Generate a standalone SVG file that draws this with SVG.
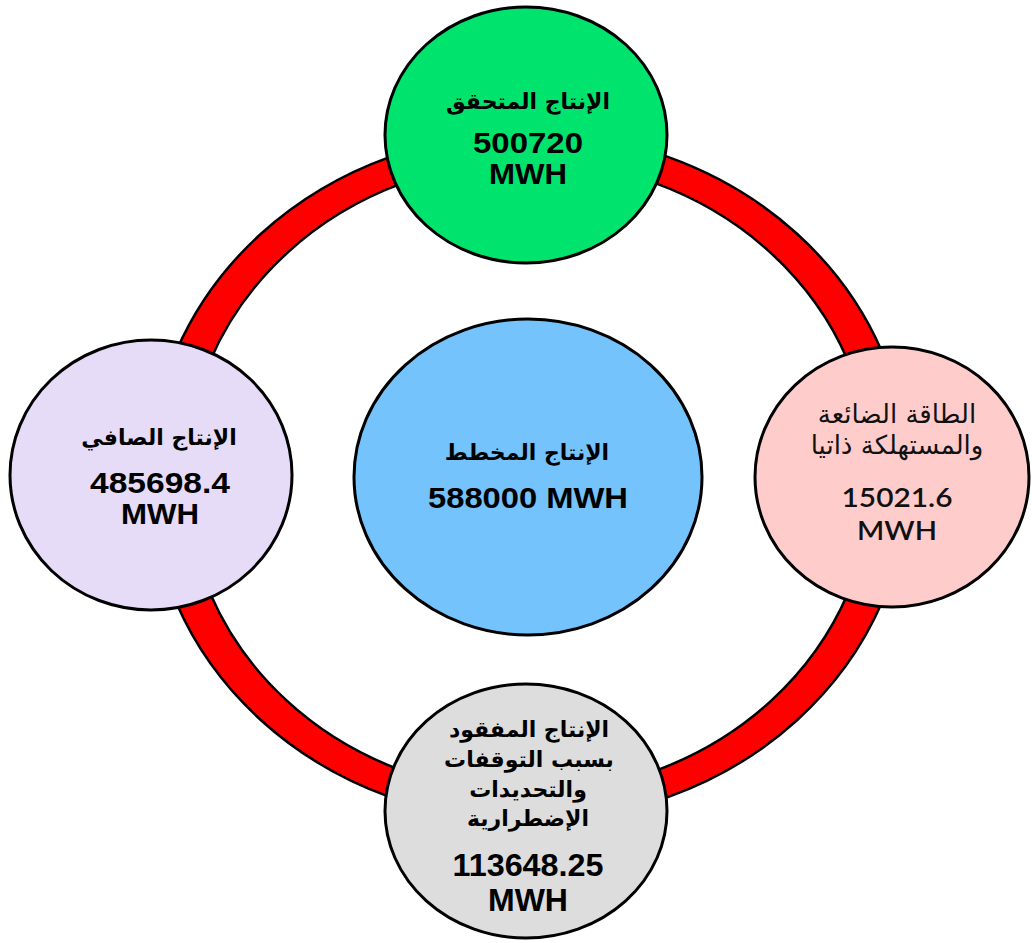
<svg xmlns="http://www.w3.org/2000/svg" width="1032" height="943" viewBox="0 0 1032 943">
<style>
.node{stroke:#000;stroke-width:3}
.ar{font-family:"DejaVu Sans","Liberation Sans",sans-serif;font-weight:bold;text-anchor:middle;fill:#000}
.ar2{font-family:"DejaVu Sans","Liberation Sans",sans-serif;text-anchor:middle;fill:#111}
.num{font-family:"Liberation Sans",Arial,sans-serif;font-weight:bold;text-anchor:middle;fill:#000}
.num2{font-family:Lato,"Open Sans",sans-serif;font-weight:600;text-anchor:middle;fill:#111}
</style>
<rect width="1032" height="943" fill="#fff"/>
<g id="connectors">
<path d="M150,477 a379,344 0 1,0 758,0 a379,344 0 1,0 -758,0 Z M186,477 a343,316 0 1,0 686,0 a343,316 0 1,0 -686,0 Z" fill="#ff0000" fill-rule="evenodd" stroke="#000" stroke-width="2.5"/>
</g>
<g id="node-center">
<ellipse class="node" cx="528" cy="477" rx="174" ry="158" fill="#74c3fc"/>
<text class="ar" x="527" y="460" font-size="22">الإنتاج المخطط</text>
<text class="num" x="528" y="508" font-size="30" textLength="200" lengthAdjust="spacingAndGlyphs">588000 MWH</text>
</g>
<g id="node-top">
<ellipse class="node" cx="526" cy="135" rx="141" ry="128" fill="#00e46e"/>
<text class="ar" x="528" y="109" font-size="22">الإنتاج المتحقق</text>
<text class="num" x="528" y="153" font-size="29" textLength="110" lengthAdjust="spacingAndGlyphs">500720</text>
<text class="num" x="528" y="184" font-size="29" textLength="78" lengthAdjust="spacingAndGlyphs">MWH</text>
</g>
<g id="node-left">
<ellipse class="node" cx="151" cy="475" rx="141" ry="135" fill="#e6dcf8"/>
<text class="ar" x="159" y="445" font-size="22">الإنتاج الصافي</text>
<text class="num" x="160" y="493" font-size="29" textLength="140" lengthAdjust="spacingAndGlyphs">485698.4</text>
<text class="num" x="160" y="524" font-size="29" textLength="78" lengthAdjust="spacingAndGlyphs">MWH</text>
</g>
<g id="node-right">
<ellipse class="node" cx="892" cy="477" rx="137" ry="130" fill="#ffcccc"/>
<text class="ar2" x="897" y="423" font-size="26">الطاقة الضائعة</text>
<text class="ar2" x="897" y="454" font-size="26">والمستهلكة ذاتيا</text>
<text class="num2" x="897" y="507" font-size="26" textLength="111" lengthAdjust="spacingAndGlyphs">15021.6</text>
<text class="num2" x="897" y="540" font-size="26" textLength="80" lengthAdjust="spacingAndGlyphs">MWH</text>
</g>
<g id="node-bottom">
<ellipse class="node" cx="526" cy="811" rx="141" ry="127" fill="#dddddd"/>
<text class="ar" x="529" y="737" font-size="22">الإنتاج المفقود</text>
<text class="ar" x="529" y="767" font-size="22">بسبب التوقفات</text>
<text class="ar" x="528" y="797" font-size="22">والتحديدات</text>
<text class="ar" x="528" y="826" font-size="22">الإضطرارية</text>
<text class="num" x="528" y="876" font-size="31" textLength="151" lengthAdjust="spacingAndGlyphs">113648.25</text>
<text class="num" x="528" y="911" font-size="31" textLength="80" lengthAdjust="spacingAndGlyphs">MWH</text>
</g>
</svg>
